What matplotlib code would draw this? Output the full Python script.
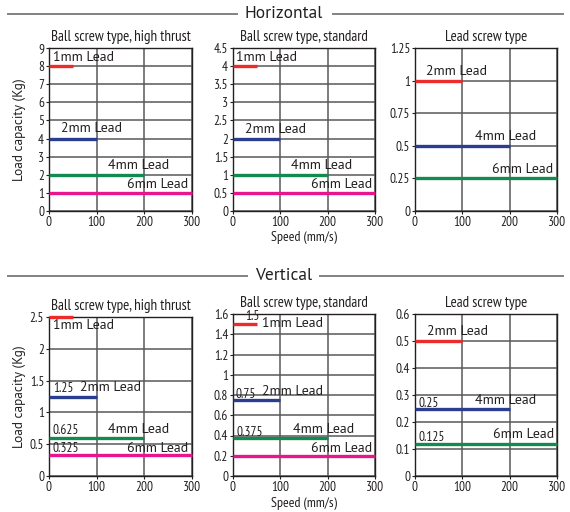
import matplotlib.pyplot as plt
from matplotlib.lines import Line2D

# speed limit (mm/s) for each lead
speeds_ball = [50, 100, 200, 300]
speeds_lead = [100, 200, 300]
leads_ball = ['1mm Lead', '2mm Lead', '4mm Lead', '6mm Lead']
leads_lead = ['2mm Lead', '4mm Lead', '6mm Lead']

# load capacity (Kg)
h_high_thrust = [8, 4, 2, 1]
h_standard = [4, 2, 1, 0.5]
h_lead_screw = [1, 0.5, 0.25]
v_high_thrust = [2.5, 1.25, 0.6, 0.325]
v_standard = [1.5, 0.75, 0.375, 0.2]
v_lead_screw = [0.5, 0.25, 0.12]

v_high_thrust_notes = ['', '1.25', '0.625', '0.325']
v_standard_notes = ['1.5', '0.75', '0.375', '']
v_lead_screw_notes = ['', '0.25', '0.125']

titles = ['Ball screw type, high thrust', 'Ball screw type, standard', 'Lead screw type']
xticks = [0, 100, 200, 300]

ball_colors = ['#ee2b2b', '#2a3d8f', '#128a50', '#e8168c']
lead_colors = ['#ee2b2b', '#2a3d8f', '#128a50']

narrow = ['PT Sans Narrow', 'DejaVu Sans']
plain = ['PT Sans', 'DejaVu Sans']
ink = '#231f20'

W, H = 570, 512
fig = plt.figure(figsize=(W / 100, H / 100), dpi=100)


def px_axes(l, t, r, b):
    return fig.add_axes([l / W, 1 - b / H, (r - l) / W, (b - t) / H])


def panel(box, title, vals, speeds, names, colors, ylim, yticks,
          name_pos, notes=None, note_pos=None, ylabel=False, xlabel=False):
    ax = px_axes(*box)
    h = box[3] - box[1]
    w = box[2] - box[0]
    ax.set_xlim(0, 300)
    ax.set_ylim(0, ylim)
    ax.set_xticks(xticks)
    ax.set_yticks(yticks)
    ax.set_xticklabels([str(t) for t in xticks], fontfamily=narrow, fontsize=9.5, color=ink)
    ax.set_yticklabels(['%g' % t for t in yticks], fontfamily=narrow, fontsize=9.5, color=ink)
    ax.tick_params(length=2, width=0.8, pad=1.5, color=ink)
    ax.grid(True, color='#58595b', linewidth=1.1)
    ax.set_axisbelow(True)
    for s in ax.spines.values():
        s.set_linewidth(1.0)
        s.set_color(ink)
    for v, sp, c in zip(vals, speeds, colors):
        ax.plot([0, sp], [v, v], color=c, linewidth=2.4, solid_capstyle='butt',
                clip_on=False, zorder=3)
    for n, (x, y) in zip(names, name_pos):
        ax.text(x, y, n, fontfamily=plain, fontsize=10, ha='left', va='center',
                color=ink, zorder=4)
    if notes:
        for n, (x, y) in zip(notes, note_pos):
            if n:
                ax.text(x, y, n, fontfamily=narrow, fontsize=9.5, ha='left',
                        va='center', color=ink, zorder=4)
    ax.set_title(title, fontfamily=narrow, fontsize=10.8, pad=5, color=ink)
    if ylabel:
        ax.set_ylabel('Load capacity (Kg)', fontfamily=plain, fontsize=9.5, color=ink)
        ax.yaxis.set_label_coords(-29 / w, 0.5)
        ax.yaxis.label.set_va('center')
    if xlabel:
        ax.set_xlabel('Speed (mm/s)', fontfamily=narrow, fontsize=10, color=ink)
        ax.xaxis.set_label_coords(0.5, -27 / h)
        ax.xaxis.label.set_va('center')
    return ax


# Horizontal row
panel((49, 48, 192, 211), titles[0], h_high_thrust, speeds_ball, leads_ball, ball_colors,
      9, list(range(0, 10)),
      [(8, 8.5), (26, 4.53), (124, 2.5), (163, 1.48)], ylabel=True)
panel((233, 48, 375, 211), titles[1], h_standard, speeds_ball, leads_ball, ball_colors,
      4.5, [0, 0.5, 1, 1.5, 2, 2.5, 3, 3.5, 4, 4.5],
      [(7, 4.25), (25, 2.24), (123, 1.25), (164, 0.74)], xlabel=True)
panel((415, 48, 557, 211), titles[2], h_lead_screw, speeds_lead, leads_lead, lead_colors,
      1.25, [0, 0.25, 0.5, 0.75, 1, 1.25],
      [(23, 1.07), (127, 0.57), (162, 0.32)])

# Vertical row
panel((49, 317, 192, 476), titles[0], v_high_thrust, speeds_ball, leads_ball, ball_colors,
      2.5, [0, 0.5, 1, 1.5, 2, 2.5],
      [(8, 2.36), (64, 1.39), (124, 0.73), (163, 0.43)],
      v_high_thrust_notes, [(0, 0), (8, 1.37), (8, 0.71), (8, 0.43)], ylabel=True)
panel((233, 314, 375, 476), titles[1], v_standard, speeds_ball, leads_ball, ball_colors,
      1.6, [0, 0.2, 0.4, 0.6, 0.8, 1, 1.2, 1.4, 1.6],
      [(62, 1.51), (62, 0.83), (127, 0.46), (164, 0.27)],
      v_standard_notes, [(25, 1.575), (5, 0.80), (7, 0.43), (0, 0)], xlabel=True)
panel((415, 314, 557, 476), titles[2], v_lead_screw, speeds_lead, leads_lead, lead_colors,
      0.6, [0, 0.1, 0.2, 0.3, 0.4, 0.5, 0.6],
      [(25, 0.534), (127, 0.279), (164, 0.153)],
      v_lead_screw_notes, [(0, 0), (8, 0.268), (8, 0.143)])


# section headings with rules either side
def heading(text, y, left_end, right_start):
    fig.text(284 / W, 1 - y / H, text, ha='center', va='center', fontsize=12.5,
             fontfamily=plain, color=ink)
    for x0, x1 in [(8, left_end), (right_start, 563)]:
        fig.add_artist(Line2D([x0 / W, x1 / W], [1 - y / H, 1 - y / H],
                              color='#808285', linewidth=1.4))


heading('Horizontal', 14, 237, 333)
heading('Vertical', 276, 247, 320)

fig.savefig('out.png', dpi=100, facecolor='white')
